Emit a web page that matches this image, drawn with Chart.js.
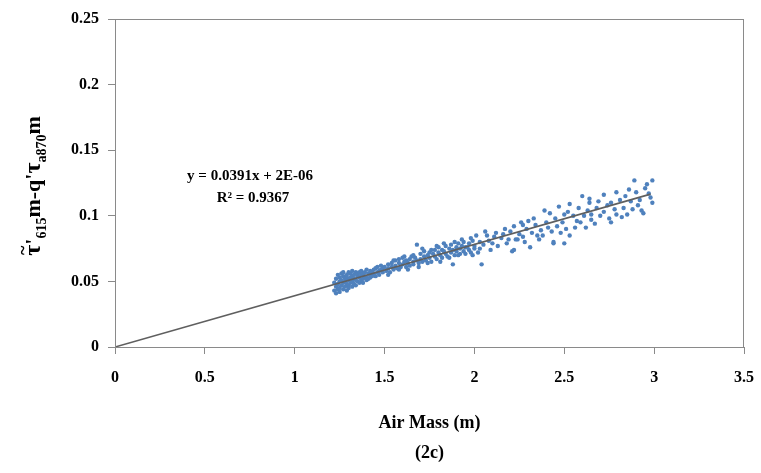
<!DOCTYPE html>
<html>
<head>
<meta charset="utf-8">
<script src="https://cdn.jsdelivr.net/npm/chart.js@4"></script>
<style>
  html, body { margin: 0; padding: 0; background: #fff; }
  #wrap { width: 761px; height: 473px; }
</style>
</head>
<body>
<div id="wrap"><canvas id="chart"></canvas></div>
<script>
// air mass values (x)
const airMass = [
  1.22,1.22,1.23,1.23,1.23,1.24,1.24,1.24,1.25,1.25,1.25,1.25,1.26,1.26,1.26,
  1.27,1.27,1.27,1.27,1.28,1.28,1.28,1.29,1.29,1.29,1.29,1.30,1.30,1.30,1.30,
  1.31,1.31,1.31,1.32,1.32,1.32,1.32,1.33,1.33,1.33,1.34,1.34,1.34,1.35,1.35,1.35,
  1.36,1.36,1.36,1.37,1.37,1.37,1.38,1.38,1.38,1.39,1.39,1.40,1.40,1.40,
  1.41,1.41,1.42,1.42,1.42,1.43,1.43,1.44,1.44,1.45,1.45,1.46,1.46,1.47,1.47,
  1.48,1.48,1.49,1.49,1.50,
  1.51,1.52,1.52,1.53,1.54,1.54,1.55,1.56,1.56,1.57,1.58,1.58,1.59,1.60,1.60,
  1.61,1.62,1.62,1.63,1.64,1.64,1.65,1.66,1.66,1.67,1.68,1.68,1.69,1.70,1.70,
  1.71,1.72,1.72,1.73,1.74,1.75,1.75,1.76,1.77,1.78,1.78,1.79,1.80,1.80,
  1.81,1.82,1.82,1.83,1.84,1.84,1.85,1.86,1.87,1.87,1.88,1.88,1.89,1.90,1.90,
  1.91,1.92,1.92,1.93,1.94,1.94,1.95,1.96,1.97,1.97,1.98,1.99,2.00,2.00,
  1.52,1.55,1.58,1.61,1.63,1.66,1.69,1.71,1.74,1.76,1.79,1.81,1.83,1.86,1.89,
  1.91,1.93,1.95,1.98,1.99,
  2.01,2.02,2.03,2.04,2.07,2.09,2.11,2.15,2.19,2.21,2.22,2.22,2.23,2.24,2.26,
  2.27,2.28,2.30,2.31,2.33,2.35,2.37,2.38,2.39,2.41,2.42,2.44,2.44,2.47,2.48,
  2.50,2.50,2.52,2.53,2.53,2.56,2.59,2.60,2.62,2.64,2.64,2.65,2.65,2.69,2.72,
  2.72,2.76,2.76,2.79,2.79,2.82,2.85,2.86,2.89,2.91,2.93,2.96,2.98,2.99,
  2.03,2.05,2.06,2.08,2.10,2.12,2.13,2.16,2.17,2.18,2.20,2.25,2.27,2.29,2.32,
  2.34,2.36,2.40,2.43,2.45,2.46,2.49,2.51,2.55,2.57,2.58,2.61,2.63,2.67,2.68,
  2.70,2.74,2.75,2.78,2.81,2.83,2.84,2.87,2.88,2.90,2.92,2.94,2.95,2.97,2.99
];
// tau difference values (y), same order as airMass
const tauDiff = [
  0.043,0.049,0.046,0.052,0.041,0.048,0.055,0.044,0.050,0.045,0.053,0.042,0.047,0.056,0.051,
  0.049,0.044,0.054,0.057,0.052,0.046,0.050,0.048,0.055,0.043,0.053,0.051,0.057,0.047,0.045,
  0.053,0.049,0.056,0.050,0.046,0.054,0.058,0.052,0.048,0.055,0.051,0.057,0.047,0.054,0.050,0.056,
  0.049,0.053,0.057,0.055,0.051,0.058,0.052,0.056,0.049,0.054,0.057,0.053,0.059,0.051,
  0.056,0.052,0.055,0.058,0.053,0.057,0.054,0.056,0.059,0.054,0.060,0.057,0.061,0.058,0.055,
  0.059,0.062,0.057,0.060,0.061,
  0.058,0.060,0.063,0.057,0.061,0.064,0.059,0.062,0.066,0.060,0.064,0.067,0.061,0.063,0.068,
  0.065,0.061,0.066,0.064,0.067,0.062,0.069,0.065,0.063,0.068,0.078,0.066,0.064,0.067,0.071,
  0.065,0.069,0.073,0.066,0.070,0.068,0.072,0.065,0.071,0.069,0.074,0.067,0.072,0.076,
  0.070,0.068,0.074,0.073,0.071,0.077,0.069,0.075,0.072,0.078,0.063,0.074,0.070,0.076,0.073,
  0.079,0.071,0.075,0.077,0.073,0.080,0.071,0.076,0.079,0.074,0.072,0.081,0.077,0.075,
  0.055,0.066,0.059,0.069,0.059,0.070,0.061,0.075,0.064,0.074,0.077,0.065,0.079,0.068,0.080,
  0.070,0.082,0.076,0.083,0.070,
  0.085,0.072,0.075,0.063,0.085,0.074,0.084,0.083,0.082,0.073,0.092,0.074,0.082,0.082,0.095,
  0.093,0.080,0.096,0.076,0.098,0.085,0.089,0.085,0.104,0.091,0.102,0.080,0.079,0.107,0.087,
  0.101,0.079,0.103,0.109,0.085,0.091,0.095,0.115,0.091,0.113,0.110,0.097,0.101,0.111,0.116,
  0.103,0.110,0.095,0.118,0.101,0.099,0.101,0.120,0.127,0.108,0.104,0.124,0.114,0.127,
  0.080,0.078,0.088,0.081,0.079,0.087,0.077,0.086,0.090,0.079,0.088,0.086,0.084,0.090,0.087,
  0.093,0.082,0.095,0.088,0.098,0.092,0.095,0.090,0.100,0.096,0.106,0.100,0.104,0.094,0.106,
  0.100,0.108,0.098,0.105,0.112,0.106,0.115,0.111,0.105,0.118,0.112,0.102,0.121,0.117,0.110
];
// linear fit printed on the chart: y = 0.0391x + 2E-06
const fitX = [0, 2.98];
const fitY = [0.000002, 0.116520];

const xTicks = [0, 0.5, 1, 1.5, 2, 2.5, 3, 3.5];
const yTicks = [0, 0.05, 0.1, 0.15, 0.2, 0.25];
const fitLabel = 'y = 0.0391x + 2E-06';
const r2Label = 'R\u00b2 = 0.9367';
const xTitle = 'Air Mass (m)';
const caption = '(2c)';

const serif = "'Liberation Serif', 'Times New Roman', serif";

const points = airMass.map((x, i) => ({x: x, y: tauDiff[i]}));
const fitLine = fitX.map((x, i) => ({x: x, y: fitY[i]}));

// draws the frame, titles and the fit equation
const extras = {
  id: 'extras',
  afterDraw(chart) {
    const ctx = chart.ctx;
    const a = chart.chartArea;
    ctx.save();
    ctx.strokeStyle = '#8a8a8a';
    ctx.lineWidth = 1;
    ctx.strokeRect(a.left + 0.5, a.top + 0.5, a.right - a.left - 1, a.bottom - a.top);

    ctx.fillStyle = '#000';
    ctx.textAlign = 'center';
    ctx.textBaseline = 'middle';
    ctx.font = 'bold 15px ' + serif;
    ctx.fillText(fitLabel, 250, 176);
    ctx.fillText(r2Label, 253, 198);

    const cx = (a.left + a.right) / 2;
    ctx.font = 'bold 18px ' + serif;
    ctx.fillText(xTitle, cx, 423);
    ctx.fillText(caption, cx, 453);

    // rotated y title with subscripts
    const parts = [
      ['\u03c4', 24, 0, true], ["'", 22, 0], ['615', 14, 6],
      ["m-q'", 22, 0], ['\u03c4', 24, 0], ['a870', 14, 6], ['m', 22, 0]
    ];
    let total = 0;
    parts.forEach(p => { ctx.font = 'bold ' + p[1] + 'px ' + serif; total += ctx.measureText(p[0]).width; });
    ctx.translate(40, 186);
    ctx.rotate(-Math.PI / 2);
    ctx.textAlign = 'left';
    ctx.textBaseline = 'alphabetic';
    let px = -total / 2;
    parts.forEach(p => {
      ctx.font = 'bold ' + p[1] + 'px ' + serif;
      const w = ctx.measureText(p[0]).width;
      ctx.fillText(p[0], px, p[2]);
      if (p[3]) {
        ctx.font = 'bold 18px ' + serif;
        const tw = ctx.measureText('~').width;
        ctx.fillText('~', px + w / 2 - tw / 2, -11);
      }
      px += w;
    });
    ctx.restore();
  }
};

new Chart(document.getElementById('chart'), {
  type: 'scatter',
  data: {
    datasets: [
      {
        type: 'line',
        data: fitLine,
        borderColor: '#5f5f5f',
        borderWidth: 1.6,
        pointRadius: 0,
        fill: false
      },
      {
        data: points,
        backgroundColor: '#4f81bd',
        borderWidth: 0,
        pointRadius: 2.2
      }
    ]
  },
  options: {
    responsive: true,
    maintainAspectRatio: false,
    animation: false,
    layout: { padding: { left: 0, right: 17, top: 19, bottom: 0 } },
    plugins: { legend: { display: false }, tooltip: { enabled: false } },
    scales: {
      x: {
        type: 'linear',
        min: 0, max: 3.5,
        afterBuildTicks: s => { s.ticks = xTicks.map(v => ({value: v})); },
        afterFit: s => { s.height = 126; s.paddingLeft = 0; s.paddingRight = 0; },
        grid: { drawOnChartArea: false, color: '#8a8a8a', tickLength: 7 },
        border: { color: '#8a8a8a' },
        ticks: {
          color: '#000',
          padding: 14,
          font: { family: serif, size: 16, weight: 'bold' },
          callback: v => String(v)
        }
      },
      y: {
        type: 'linear',
        min: 0, max: 0.25,
        afterBuildTicks: s => { s.ticks = yTicks.map(v => ({value: v})); },
        afterFit: s => { s.width = 115; s.paddingTop = 0; s.paddingBottom = 0; },
        grid: { drawOnChartArea: false, color: '#8a8a8a', tickLength: 7 },
        border: { color: '#8a8a8a' },
        ticks: {
          color: '#000',
          padding: 9,
          font: { family: serif, size: 16, weight: 'bold' },
          callback: v => String(Number(v.toFixed(2)))
        }
      }
    }
  },
  plugins: [extras]
});
</script>
</body>
</html>
